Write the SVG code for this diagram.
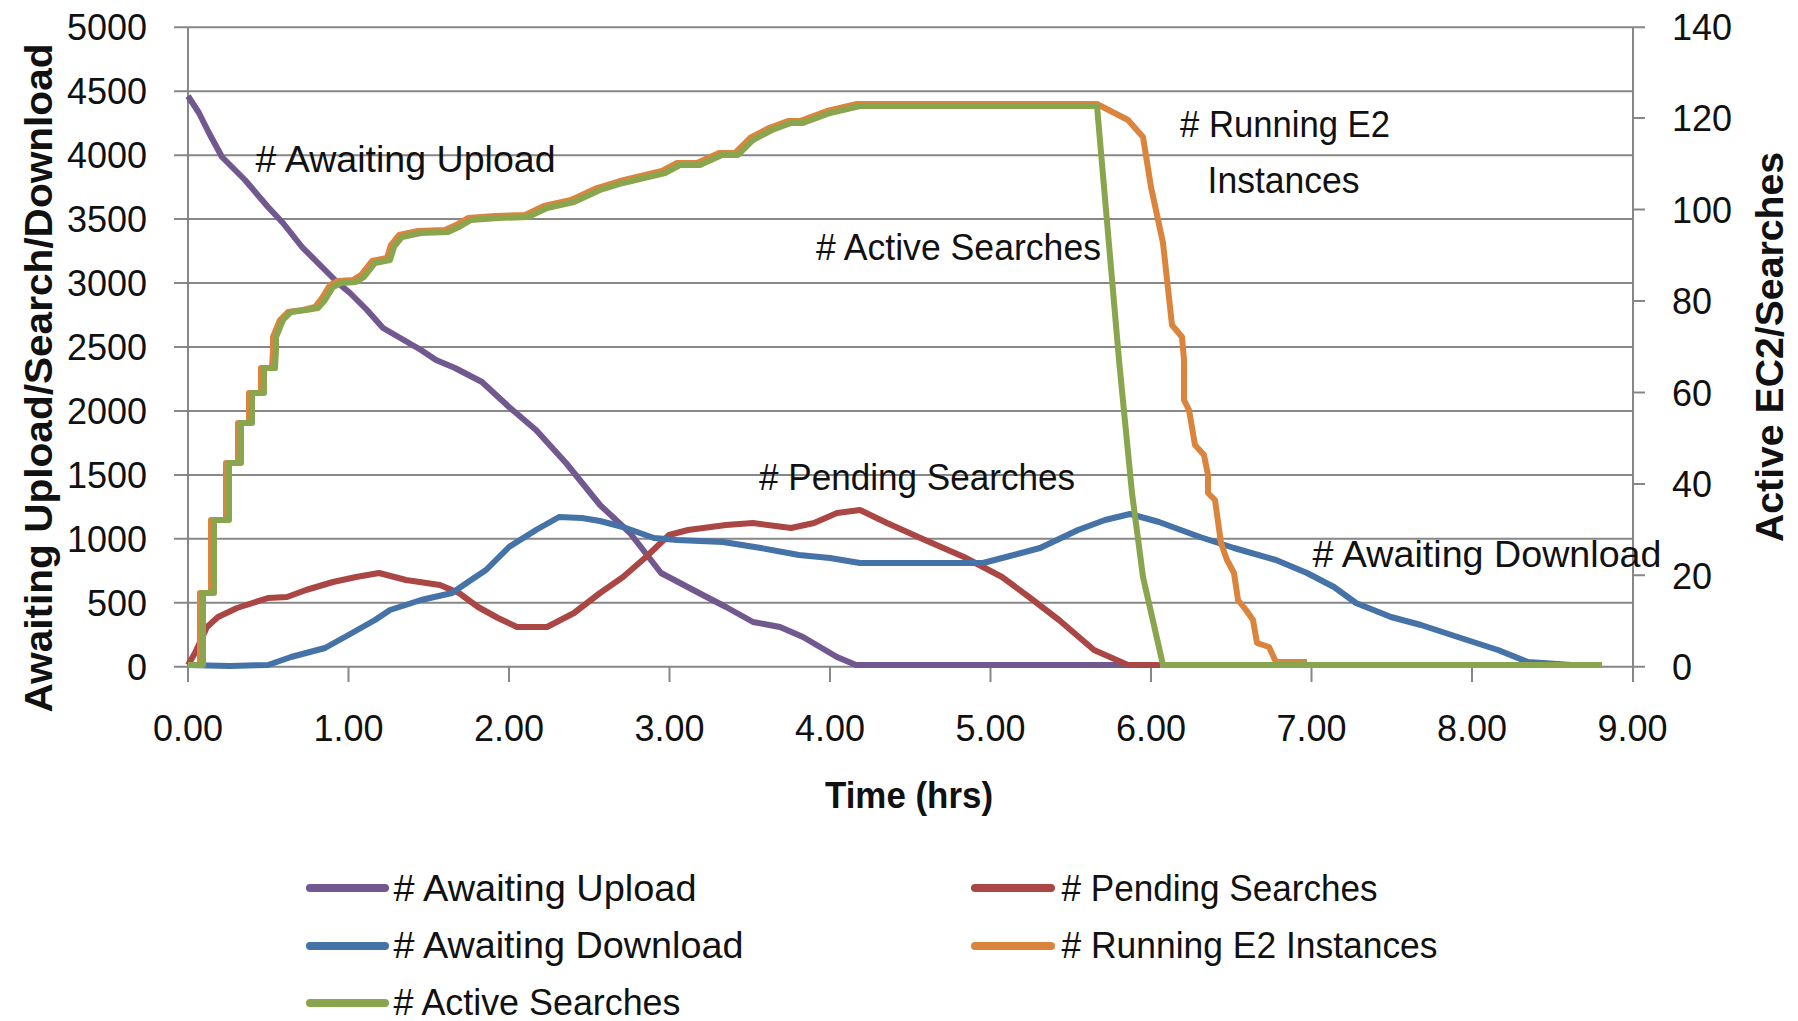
<svg xmlns="http://www.w3.org/2000/svg" width="1798" height="1021" viewBox="0 0 1798 1021">
<style>
.grid{stroke:#878787;stroke-width:2;fill:none}
.tick{font-family:"Liberation Sans",Arial,sans-serif;font-size:36px;fill:#111}
.title{font-family:"Liberation Sans",Arial,sans-serif;font-size:38px;font-weight:bold;fill:#111}
.lbl{font-family:"Liberation Sans",Arial,sans-serif;font-size:37px;fill:#111}
.s{fill:none;stroke-width:6;stroke-linejoin:round;stroke-linecap:butt}
.leg{stroke-width:8;stroke-linecap:round}
.pu{stroke:#71588F}.re{stroke:#AA4643}.bl{stroke:#4572A7}.or{stroke:#DB843D}.gr{stroke:#89A54E}
</style>
<rect width="1798" height="1021" fill="#fff"/>
<g id="grid">
<path class="grid" d="M174 27.3H1645M174 91.2H1633M174 155.2H1633M174 219.1H1633M174 283.1H1633M174 347H1633M174 411H1633M174 474.9H1633M174 538.8H1633M174 602.8H1633M174 666.7H1633"/>
<path class="grid" d="M188 27V682M1633 27V682"/>
<path class="grid" d="M348.5 667V682M509 667V682M669.5 667V682M830 667V682M990.5 667V682M1151 667V682M1311.5 667V682M1472 667V682"/>
<path class="grid" d="M1633 575.3H1645M1633 483.9H1645M1633 392.4H1645M1633 301H1645M1633 209.6H1645M1633 118.1H1645M1633 666.7H1645"/>
</g>
<g id="left-axis" class="tick" text-anchor="end">
<text x="147" y="40">5000</text>
<text x="147" y="104">4500</text>
<text x="147" y="168">4000</text>
<text x="147" y="232">3500</text>
<text x="147" y="296">3000</text>
<text x="147" y="360">2500</text>
<text x="147" y="424">2000</text>
<text x="147" y="488">1500</text>
<text x="147" y="552">1000</text>
<text x="147" y="616">500</text>
<text x="147" y="680">0</text>
</g>
<g id="right-axis" class="tick">
<text x="1672" y="40">140</text>
<text x="1672" y="131">120</text>
<text x="1672" y="223">100</text>
<text x="1672" y="314">80</text>
<text x="1672" y="406">60</text>
<text x="1672" y="497">40</text>
<text x="1672" y="589">20</text>
<text x="1672" y="680">0</text>
</g>
<g id="x-axis" class="tick" text-anchor="middle">
<text x="188" y="741">0.00</text>
<text x="348.5" y="741">1.00</text>
<text x="509" y="741">2.00</text>
<text x="669.5" y="741">3.00</text>
<text x="830" y="741">4.00</text>
<text x="990.5" y="741">5.00</text>
<text x="1151" y="741">6.00</text>
<text x="1311.5" y="741">7.00</text>
<text x="1472" y="741">8.00</text>
<text x="1632.5" y="741">9.00</text>
</g>
<g id="axis-titles" class="title" text-anchor="middle">
<text transform="translate(52,378) rotate(-90)" textLength="669" lengthAdjust="spacingAndGlyphs">Awaiting Upload/Search/Download</text>
<text transform="translate(1783,347) rotate(-90)" textLength="390" lengthAdjust="spacingAndGlyphs">Active EC2/Searches</text>
<text x="909" y="808" style="font-size:36px" textLength="168" lengthAdjust="spacingAndGlyphs">Time (hrs)</text>
</g>
<g id="series">
<polyline id="awaiting-upload" class="s pu" points="188,96 199,113 209,133 222,157 245,180 268,207 283,223 302,247 322,267 338,283 350,293 367,310 383,328 402,339 421,350 436,360 455,368 482,382 509,407 536,430 566,463 600,505 630,533 661,573 699,593 726,607 753,622 780,627 803,637 837,657 856,665 1160,665"/>
<polyline id="pending-searches" class="s re" points="188,665 195,653 207,627 218,617 237,608 268,598 287,597 306,590 333,582 356,577 379,573 406,580 440,585 459,593 478,607 498,618 517,627 547,627 574,613 600,593 623,577 646,557 669,535 688,530 726,525 753,523 791,528 814,523 837,513 860,510 887,523 925,540 964,557 1002,577 1029,597 1059,620 1094,650 1128,665 1160,665"/>
<polyline id="awaiting-download" class="s bl" points="188,665 230,666 268,665 291,657 325,648 352,633 375,620 390,610 421,600 452,593 471,580 486,570 509,547 536,530 559,517 582,518 600,521 623,527 654,538 677,540 723,542 761,548 799,555 830,558 860,563 983,563 1006,557 1040,548 1078,530 1105,520 1130,514 1159,522 1200,537 1234,548 1276,560 1307,573 1334,587 1356,603 1391,617 1421,625 1467,640 1498,650 1528,662 1572,665"/>
<polyline id="running-e2" class="s or" points="188,665 200,665 200,593 211,593 211,520 226,520 226,463 238,463 238,423 249,423 249,393 261,393 261,368 272,368 273,350 273,337 280,320 288,312 303,310 315,307 322,298 330,285 338,281 353,280 361,275 372,261 387,258 391,245 399,235 418,231 445,230 456,225 468,218 495,216 525,215 544,206 571,200 597,188 620,181 662,171 677,163 697,163 719,153 735,153 750,138 769,128 788,121 800,121 827,111 857,104 1097,104 1128,120 1143,137 1151,187 1163,243 1172,325 1182,337 1184,360 1184,400 1189,410 1195,445 1204,455 1208,475 1208,493 1215,500 1221,543 1227,560 1234,573 1238,600 1246,610 1253,620 1257,643 1269,647 1276,662 1307,662"/>
<polyline id="active-searches" class="s gr" points="188,665 203,665 203,593 214,593 214,520 229,520 229,463 241,463 241,423 252,423 252,393 264,393 264,368 275,368 276,350 276,337 283,320 291,312 306,310 318,308 325,300 333,287 341,283 356,282 364,277 375,263 390,260 394,247 402,237 421,233 448,232 459,227 471,220 498,218 528,217 547,208 574,202 600,190 623,183 665,173 680,165 700,165 722,155 738,155 753,140 772,130 791,123 803,123 830,113 860,106 1097,106 1119,360 1132,493 1143,577 1163,665 1602,665"/>
</g>
<g id="annotations" class="lbl">
<text x="255.6" y="172" textLength="300" lengthAdjust="spacingAndGlyphs"># Awaiting Upload</text>
<text x="816" y="260" textLength="285" lengthAdjust="spacingAndGlyphs"># Active Searches</text>
<text x="1180" y="137" textLength="210" lengthAdjust="spacingAndGlyphs"># Running E2</text>
<text x="1207.6" y="193" textLength="152" lengthAdjust="spacingAndGlyphs">Instances</text>
<text x="759" y="490" textLength="316" lengthAdjust="spacingAndGlyphs"># Pending Searches</text>
<text x="1312.5" y="567" textLength="349" lengthAdjust="spacingAndGlyphs"># Awaiting Download</text>
</g>
<g id="legend">
<g id="legend-awaiting-upload"><line class="leg pu" x1="310" y1="888" x2="385" y2="888"/><text class="lbl" x="393.5" y="901" textLength="303" lengthAdjust="spacingAndGlyphs"># Awaiting Upload</text></g>
<g id="legend-pending-searches"><line class="leg re" x1="975" y1="888" x2="1051" y2="888"/><text class="lbl" x="1061.5" y="901" textLength="316" lengthAdjust="spacingAndGlyphs"># Pending Searches</text></g>
<g id="legend-awaiting-download"><line class="leg bl" x1="310" y1="946" x2="385" y2="946"/><text class="lbl" x="393.5" y="958" textLength="350" lengthAdjust="spacingAndGlyphs"># Awaiting Download</text></g>
<g id="legend-running-e2"><line class="leg or" x1="975" y1="946" x2="1051" y2="946"/><text class="lbl" x="1061.5" y="958" textLength="376" lengthAdjust="spacingAndGlyphs"># Running E2 Instances</text></g>
<g id="legend-active-searches"><line class="leg gr" x1="310" y1="1003" x2="385" y2="1003"/><text class="lbl" x="393.5" y="1015" textLength="287" lengthAdjust="spacingAndGlyphs"># Active Searches</text></g>
</g>
</svg>
